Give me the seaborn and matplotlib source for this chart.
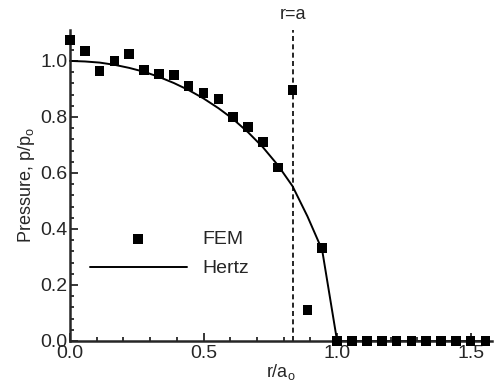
import numpy as np
import pandas as pd
import matplotlib
matplotlib.use("Agg")
import matplotlib.pyplot as plt
import seaborn as sns
from matplotlib.ticker import MultipleLocator

# FEM contact pressure
fem_r = [0.0, 0.056, 0.111, 0.167, 0.222, 0.278, 0.333, 0.389, 0.444, 0.5,
         0.556, 0.611, 0.667, 0.722, 0.778, 0.833, 0.889, 0.944, 1.0,
         1.056, 1.111, 1.167, 1.222, 1.278, 1.333, 1.389, 1.444, 1.5, 1.556]
fem_p = [1.075, 1.036, 0.964, 1.0, 1.025, 0.968, 0.953, 0.95, 0.91, 0.885,
         0.864, 0.80, 0.763, 0.71, 0.62, 0.896, 0.11, 0.333, 0.0,
         0.0, 0.0, 0.0, 0.0, 0.0, 0.0, 0.0, 0.0, 0.0, 0.0]

# Hertz solution
hertz_r = [0.0, 0.056, 0.111, 0.167, 0.222, 0.278, 0.333, 0.389, 0.444, 0.5,
           0.556, 0.611, 0.667, 0.722, 0.778, 0.833, 0.889, 0.944, 1.0,
           1.25, 1.556]
hertz_p = [1.0, 0.998, 0.994, 0.986, 0.975, 0.961, 0.943, 0.921, 0.896, 0.866,
           0.831, 0.792, 0.745, 0.692, 0.628, 0.553, 0.445, 0.325, 0.0,
           0.0, 0.0]

r_contact = 0.836

sns.set_style("ticks")
plt.rcParams['font.family'] = ['Liberation Sans', 'DejaVu Sans']
plt.rcParams['mathtext.fontset'] = 'custom'
plt.rcParams['mathtext.rm'] = 'Liberation Sans'
plt.rcParams['mathtext.it'] = 'Liberation Sans:italic'

fem = pd.DataFrame({"r": fem_r, "p": fem_p})
hertz = pd.DataFrame({"r": hertz_r, "p": hertz_p})

fig = plt.figure(figsize=(4.94, 3.81), dpi=100)
ax = fig.add_axes([0.1417, 0.105, 0.8543, 0.816])

sns.lineplot(data=hertz, x="r", y="p", ax=ax, color="black", lw=1.4,
             label="Hertz", legend=False, sort=False, clip_on=False)
sns.scatterplot(data=fem, x="r", y="p", ax=ax, color="black", marker="s",
                s=48, edgecolor="none", label="FEM", legend=False,
                clip_on=False, zorder=5)
ax.axvline(r_contact, color="black", ls=(0, (3, 2)), lw=1.2)
ax.text(r_contact, 1.165, "r=a", ha="center", va="center", fontsize=13)

ax.set_xlim(0, 1.58)
ax.set_ylim(0, 1.11)
ax.xaxis.set_major_locator(MultipleLocator(0.5))
ax.xaxis.set_minor_locator(MultipleLocator(0.1))
ax.yaxis.set_major_locator(MultipleLocator(0.2))
ax.yaxis.set_minor_locator(MultipleLocator(0.04))
ax.xaxis.set_major_formatter(lambda v, p: f"{v:.1f}")
ax.yaxis.set_major_formatter(lambda v, p: f"{v:.1f}")
ax.tick_params(which="both", direction="in", labelsize=14, width=1.3)
ax.tick_params(which="major", length=6, pad=2)
ax.tick_params(which="minor", length=3)
ax.tick_params(axis="x", which="major", pad=3)
sns.despine(ax=ax)
for s in ["left", "bottom"]:
    ax.spines[s].set_linewidth(1.8)

ax.set_xlabel(r"r/a$_\mathrm{o}$", fontsize=13, labelpad=0)
ax.set_ylabel(r"Pressure, p/p$_\mathrm{o}$", fontsize=13, labelpad=2)

h, l = ax.get_legend_handles_labels()
order = [l.index("FEM"), l.index("Hertz")]
ax.legend([h[i] for i in order], [l[i] for i in order], frameon=False,
          loc="center left", bbox_to_anchor=(0.005, 0.28), fontsize=14,
          handlelength=5.0, handletextpad=0.8, labelspacing=0.6)

fig.savefig("out.png", dpi=100)
